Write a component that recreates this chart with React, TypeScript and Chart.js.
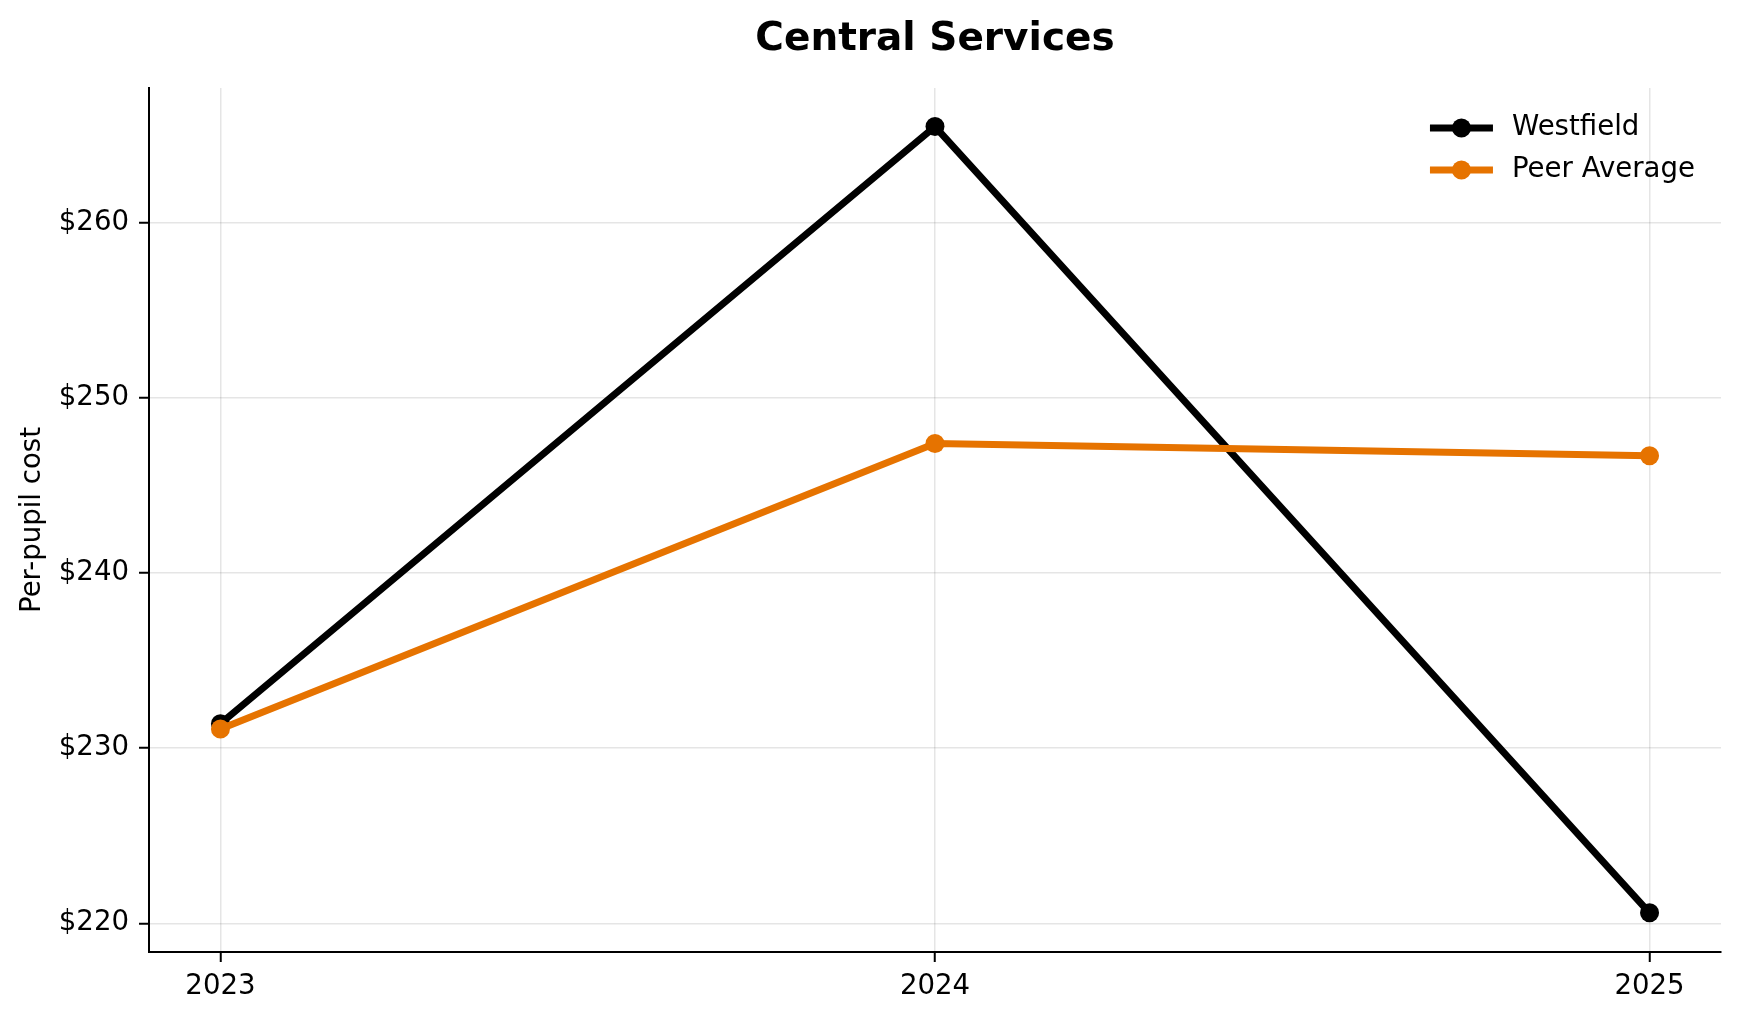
import React, { useEffect, useRef } from "react";
import { Chart, registerables } from "chart.js";

Chart.register(...registerables);

const years = [2023, 2024, 2025];
const westfield = [231.4, 265.5, 220.6];
const peerAverage = [231.1, 247.4, 246.7];
const yTicks = [220, 230, 240, 250, 260];

const FONT = "'DejaVu Sans', sans-serif";
const TEXT_SIZE = 27.6;
const BLACK = "#000000";
const ORANGE = "#e67300";

const legendPlugin = {
  id: "mplLegend",
  afterDatasetsDraw(chart: any) {
    const { ctx, chartArea } = chart;
    const items = chart.data.datasets;
    ctx.save();
    ctx.font = `${TEXT_SIZE}px ${FONT}`;
    const maxW = Math.max(...items.map((d: any) => ctx.measureText(d.label).width));
    const textX = chartArea.right - 26 - maxW;
    const x0 = textX - 82;
    const x1 = textX - 19;
    items.forEach((ds: any, i: number) => {
      const y = chartArea.top + 40 + i * 42;
      ctx.strokeStyle = ds.borderColor;
      ctx.lineWidth = ds.borderWidth;
      ctx.beginPath();
      ctx.moveTo(x0, y);
      ctx.lineTo(x1, y);
      ctx.stroke();
      ctx.fillStyle = ds.borderColor;
      ctx.beginPath();
      ctx.arc((x0 + x1) / 2, y, ds.pointRadius, 0, Math.PI * 2);
      ctx.fill();
      ctx.fillStyle = BLACK;
      ctx.textAlign = "left";
      ctx.textBaseline = "middle";
      ctx.fillText(ds.label, textX, y);
    });
    ctx.restore();
  },
};

const App: React.FC = () => {
  const canvasRef = useRef<HTMLCanvasElement>(null);
  const chartRef = useRef<Chart | null>(null);

  useEffect(() => {
    document.body.style.margin = "0";
    if (!canvasRef.current) return;
    const ctx = canvasRef.current.getContext("2d");
    if (!ctx) return;

    Chart.defaults.color = BLACK;
    Chart.defaults.font.family = FONT;

    chartRef.current = new Chart(ctx, {
      type: "line",
      data: {
        datasets: [
          {
            label: "Westfield",
            data: years.map((x, i) => ({ x, y: westfield[i] })),
            borderColor: BLACK,
            backgroundColor: BLACK,
            borderWidth: 7,
            pointRadius: 9.5,
            pointBorderWidth: 0,
            pointBackgroundColor: BLACK,
            tension: 0,
            order: 1,
          },
          {
            label: "Peer Average",
            data: years.map((x, i) => ({ x, y: peerAverage[i] })),
            borderColor: ORANGE,
            backgroundColor: ORANGE,
            borderWidth: 7,
            pointRadius: 9.5,
            pointBorderWidth: 0,
            pointBackgroundColor: ORANGE,
            tension: 0,
            order: 0,
          },
        ],
      },
      options: {
        responsive: false,
        animation: false,
        devicePixelRatio: 1,
        layout: { padding: { left: 0, right: 18, top: 0, bottom: 0 } },
        plugins: {
          legend: { display: false },
          tooltip: { enabled: false },
          title: {
            display: true,
            text: "Central Services",
            fullSize: false,
            color: BLACK,
            font: { family: FONT, size: 39, weight: "bold", lineHeight: 1.2 },
            padding: { top: 16.5, bottom: 24.7 },
          },
        },
        scales: {
          x: {
            type: "linear",
            min: 2022.9,
            max: 2025.1,
            afterBuildTicks: (scale: any) => {
              scale.ticks = years.map((v) => ({ value: v }));
            },
            afterFit: (scale: any) => {
              scale.height = 67;
            },
            ticks: {
              color: BLACK,
              font: { family: FONT, size: TEXT_SIZE },
              padding: 8,
              maxRotation: 0,
              callback: (v: any) => String(v),
            },
            grid: {
              color: "rgba(0,0,0,0.1)",
              lineWidth: 1.5,
              drawTicks: true,
              tickLength: 10,
              tickColor: BLACK,
              tickWidth: 2,
            },
            border: { display: true, color: BLACK, width: 2 },
          },
          y: {
            type: "linear",
            min: 218.36,
            max: 267.7,
            afterBuildTicks: (scale: any) => {
              scale.ticks = yTicks.map((v) => ({ value: v }));
            },
            afterFit: (scale: any) => {
              scale.width = 149;
            },
            ticks: {
              color: BLACK,
              font: { family: FONT, size: TEXT_SIZE },
              padding: 10,
              callback: (v: any) => "$" + v,
            },
            grid: {
              color: "rgba(0,0,0,0.1)",
              lineWidth: 1.5,
              drawTicks: true,
              tickLength: 10,
              tickColor: BLACK,
              tickWidth: 2,
            },
            border: { display: true, color: BLACK, width: 2 },
            title: {
              display: true,
              text: "Per-pupil cost",
              color: BLACK,
              font: { family: FONT, size: TEXT_SIZE, lineHeight: 1.2 },
              padding: { top: 16, bottom: 0 },
            },
          },
        },
      },
      plugins: [legendPlugin],
    });

    return () => {
      if (chartRef.current) {
        chartRef.current.destroy();
        chartRef.current = null;
      }
    };
  }, []);

  return (
    <div style={{ width: 1739, height: 1019, background: "#fff" }}>
      <canvas ref={canvasRef} width={1739} height={1019} style={{ display: "block" }}></canvas>
    </div>
  );
};

export default App;
